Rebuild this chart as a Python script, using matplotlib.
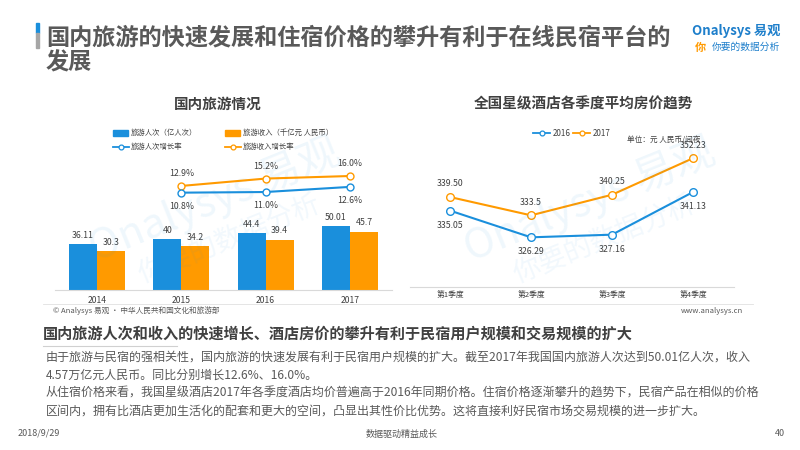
import matplotlib
matplotlib.use("Agg")
import matplotlib.pyplot as plt
from matplotlib.lines import Line2D
from matplotlib.patches import Rectangle

plt.rcParams['font.family'] = ['Noto Sans CJK SC', 'DejaVu Sans']

# data
years = ['2014', '2015', '2016', '2017']
trips = [36.11, 40, 44.4, 50.01]          # 旅游人次（亿人次）
income = [30.3, 34.2, 39.4, 45.7]         # 旅游收入（千亿元 人民币）
rate_years = ['2015', '2016', '2017']
trips_rate = [10.8, 11.0, 12.6]
income_rate = [12.9, 15.2, 16.0]

quarters = ['第1季度', '第2季度', '第3季度', '第4季度']
price_2016 = [335.05, 326.29, 327.16, 341.13]
price_2017 = [339.50, 333.5, 340.25, 352.23]
price_2016_txt = ['335.05', '326.29', '327.16', '341.13']
price_2017_txt = ['339.50', '333.5', '340.25', '352.23']

BLUE = '#1A8FDC'
ORANGE = '#FF9A00'
DARK = '#404040'
GRAY = '#595959'
W, H = 800, 450

fig = plt.figure(figsize=(8, 4.5), dpi=100)


def fx(x):
    return x / W


def fy(y):
    return 1 - y / H


def ftext(x, y, s, **kw):
    kw.setdefault('va', 'center')
    fig.text(fx(x), fy(y), s, **kw)


# header
fig.add_artist(Rectangle((fx(36), fy(33)), fx(2.5), 10 / H, transform=fig.transFigure, color=BLUE))
fig.add_artist(Rectangle((fx(36), fy(48)), fx(2.5), 15 / H, transform=fig.transFigure, color='#a6a6a6'))
ftext(46, 38, '国内旅游的快速发展和住宿价格的攀升有利于在线民宿平台的', fontsize=16.7,
      fontweight='bold', color=GRAY)
ftext(46, 63, '发展', fontsize=16.7, fontweight='bold', color=GRAY)
ftext(780, 31, 'Onalysys 易观', fontsize=9.5, color='#1E7FCB', ha='right', fontweight='bold')
ftext(780, 47, '你要的数据分析', fontsize=7, color='#1E7FCB', ha='right', style='italic')
ftext(700, 47, '你', fontsize=8, color=ORANGE, ha='center', fontweight='bold')

# ---- left chart: 国内旅游情况
ftext(218, 104, '国内旅游情况', fontsize=10.5, fontweight='bold', color=DARK, ha='center')

leg_fs = 5.3
fig.add_artist(Rectangle((fx(113), fy(136)), fx(15), 6 / H, transform=fig.transFigure, color=BLUE))
ftext(131, 133, '旅游人次（亿人次）', fontsize=leg_fs, color=DARK)
fig.add_artist(Rectangle((fx(225), fy(136)), fx(15), 6 / H, transform=fig.transFigure, color=ORANGE))
ftext(243, 133, '旅游收入（千亿元 人民币）', fontsize=leg_fs, color=DARK)
for lx, col, txt in ((113, BLUE, '旅游人次增长率'), (225, ORANGE, '旅游收入增长率')):
    fig.add_artist(Line2D([fx(lx), fx(lx + 16)], [fy(147)] * 2, transform=fig.transFigure,
                          color=col, lw=1.3))
    fig.add_artist(Line2D([fx(lx + 8)], [fy(147)], transform=fig.transFigure, marker='o',
                          ms=3.5, mfc='white', mec=col, mew=0.9))
    ftext(lx + 18, 147, txt, fontsize=leg_fs, color=DARK)

ax1 = fig.add_axes([fx(55), fy(290), 337 / W, 130 / H])
ax1.patch.set_alpha(0)
xs = list(range(len(years)))
bw = 0.333
b1 = ax1.bar([x - bw / 2 for x in xs], trips, width=bw, color=BLUE, zorder=2)
b2 = ax1.bar([x + bw / 2 for x in xs], income, width=bw, color=ORANGE, zorder=2)
for bars, vals in ((b1, trips), (b2, income)):
    for r, v in zip(bars, vals):
        ax1.annotate(str(v), (r.get_x() + r.get_width() / 2, r.get_height()),
                     xytext=(0, 3), textcoords='offset points', ha='center', va='bottom',
                     fontsize=6.3, color=DARK)
ax1.set_xlim(-0.5, 3.5)
ax1.set_ylim(0, 130 / 1.28)
ax1.set_xticks(xs)
ax1.set_xticklabels(years, fontsize=6.2, color=DARK)
ax1.tick_params(axis='x', length=0, pad=4)
ax1.set_yticks([])
for s in ('top', 'right', 'left'):
    ax1.spines[s].set_visible(False)
ax1.spines['bottom'].set_color('#d9d9d9')

ax1b = ax1.twinx()
rx = [years.index(y) for y in rate_years]
ax1b.plot(rx, income_rate, color=ORANGE, lw=1.5, marker='o', ms=5, mfc='white', mec=ORANGE, mew=1)
ax1b.plot(rx, trips_rate, color=BLUE, lw=1.5, marker='o', ms=5, mfc='white', mec=BLUE, mew=1)
for x, v in zip(rx, income_rate):
    ax1b.annotate(f'{v:.1f}%', (x, v), xytext=(0, 9), textcoords='offset points',
                  ha='center', va='center', fontsize=6.3, color=DARK)
for x, v in zip(rx, trips_rate):
    ax1b.annotate(f'{v:.1f}%', (x, v), xytext=(0, -10), textcoords='offset points',
                  ha='center', va='center', fontsize=6.3, color=DARK)
ax1b.set_ylim(-19.6, 21.0)
ax1b.set_yticks([])
for s in ax1b.spines.values():
    s.set_visible(False)

ftext(53, 311, '© Analysys 易观 · 中华人民共和国文化和旅游部', fontsize=5.5, color=GRAY)

# ---- right chart: 全国星级酒店各季度平均房价趋势
ftext(583, 103, '全国星级酒店各季度平均房价趋势', fontsize=10.5, fontweight='bold', color=DARK, ha='center')
for lx, col, txt in ((533, BLUE, '2016'), (573, ORANGE, '2017')):
    fig.add_artist(Line2D([fx(lx), fx(lx + 17)], [fy(133)] * 2, transform=fig.transFigure,
                          color=col, lw=1.3))
    fig.add_artist(Line2D([fx(lx + 9)], [fy(133)], transform=fig.transFigure, marker='o',
                          ms=3.5, mfc='white', mec=col, mew=0.9))
    ftext(lx + 20, 133, txt, fontsize=5.8, color=DARK)
ftext(627, 140, '单位：元 人民币/间夜', fontsize=5.5, color=DARK)

ax2 = fig.add_axes([fx(409.5), fy(287), 324 / W, 147 / H])
ax2.patch.set_alpha(0)
qx = list(range(len(quarters)))
ax2.plot(qx, price_2017, color=ORANGE, lw=1.5, marker='o', ms=5.5, mfc='white', mec=ORANGE, mew=1)
ax2.plot(qx, price_2016, color=BLUE, lw=1.5, marker='o', ms=5.5, mfc='white', mec=BLUE, mew=1)
for x, v, t in zip(qx, price_2017, price_2017_txt):
    ax2.annotate(t, (x, v), xytext=(0, 9.5), textcoords='offset points',
                 ha='center', va='center', fontsize=6.3, color=DARK)
for x, v, t in zip(qx, price_2016, price_2016_txt):
    ax2.annotate(t, (x, v), xytext=(0, -10.5), textcoords='offset points',
                 ha='center', va='center', fontsize=6.3, color=DARK)
ax2.set_xlim(-0.5, 3.5)
ax2.set_ylim(310.0, 358.2)
ax2.set_xticks(qx)
ax2.set_xticklabels(quarters, fontsize=5.6, color=DARK)
ax2.tick_params(axis='x', length=0, pad=3)
ax2.set_yticks([])
for s in ('top', 'right', 'left'):
    ax2.spines[s].set_visible(False)
ax2.spines['bottom'].set_color('#d9d9d9')

# faint watermark over both charts
for ax, cx in ((ax1, 215), (ax2, 590)):
    ax.text(fx(cx), fy(200), 'Onalysys 易观', transform=fig.transFigure, fontsize=30,
            color=BLUE, alpha=0.07, ha='center', va='center', rotation=22, zorder=5,
            clip_on=False)
    ax.text(fx(cx + 15), fy(240), '你要的数据分析', transform=fig.transFigure, fontsize=20,
            color=BLUE, alpha=0.06, ha='center', va='center', rotation=22, zorder=5,
            clip_on=False)

fig.add_artist(Line2D([fx(43), fx(753)], [fy(304)] * 2, transform=fig.transFigure,
                      color='#e0e0e0', lw=0.6))
ftext(743, 311, 'www.analysys.cn', fontsize=5.5, color=GRAY, ha='right')

# ---- bottom text
ftext(43, 334, '国内旅游人次和收入的快速增长、酒店房价的攀升有利于民宿用户规模和交易规模的扩大',
      fontsize=10.9, fontweight='bold', color=DARK)
fig.add_artist(Line2D([fx(43), fx(177)], [fy(346)] * 2, transform=fig.transFigure,
                      color='#d0d0d0', lw=0.8))
para = [
    '由于旅游与民宿的强相关性，国内旅游的快速发展有利于民宿用户规模的扩大。截至2017年我国国内旅游人次达到50.01亿人次，收入',
    '4.57万亿元人民币。同比分别增长12.6%、16.0%。',
    '从住宿价格来看，我国星级酒店2017年各季度酒店均价普遍高于2016年同期价格。住宿价格逐渐攀升的趋势下，民宿产品在相似的价格',
    '区间内，拥有比酒店更加生活化的配套和更大的空间，凸显出其性价比优势。这将直接利好民宿市场交易规模的进一步扩大。',
]
for i, line in enumerate(para):
    ftext(46, 357 + 18 * i, line, fontsize=8.65, color=GRAY)

# footer
ftext(18, 433, '2018/9/29', fontsize=6.5, color=GRAY)
ftext(402, 434, '数据驱动精益成长', fontsize=6.5, color=GRAY, ha='center')
ftext(785, 433, '40', fontsize=6.5, color=GRAY, ha='right')

fig.savefig('out.png', dpi=100)
